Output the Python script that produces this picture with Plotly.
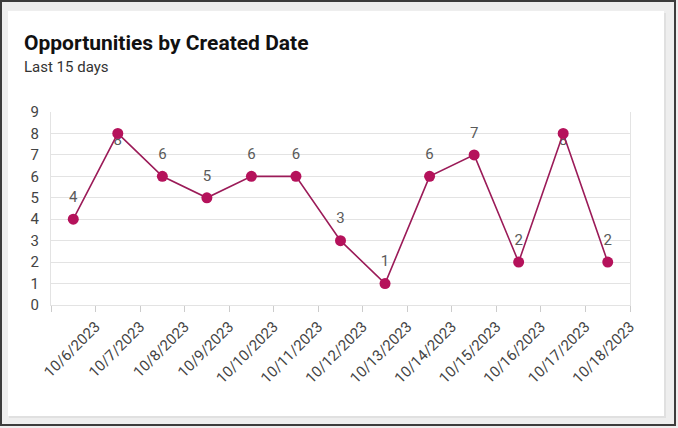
import plotly.graph_objects as go

dates = ["10/6/2023", "10/7/2023", "10/8/2023", "10/9/2023", "10/10/2023",
         "10/11/2023", "10/12/2023", "10/13/2023", "10/14/2023", "10/15/2023",
         "10/16/2023", "10/17/2023", "10/18/2023"]
opportunities = [4, 8, 6, 5, 6, 6, 3, 1, 6, 7, 2, 8, 2]
y_ticks = list(range(0, 10))

title_text = "Opportunities by Created Date"
subtitle_text = "Last 15 days"

W, H = 678, 428
ML, MR, MT, MB = 51, 48, 112, 123
PW, PH = W - ML - MR, H - MT - MB


def xp(px):
    return (px - ML) / PW


def yp(py):
    return (H - MB - py) / PH


idx = list(range(len(dates)))
line_color = "#9b1b58"
marker_color = "#b5125b"
label_font = dict(family="Roboto, sans-serif", size=15, color="#5a5a5a")

top_idx = [i for i, v in enumerate(opportunities) if v < 8]
hid_idx = [i for i, v in enumerate(opportunities) if v >= 8]

fig = go.Figure()

# labels drawn first so markers sit above them
fig.add_trace(go.Scatter(
    x=top_idx, y=[opportunities[i] for i in top_idx], mode="markers+text",
    text=[str(opportunities[i]) for i in top_idx],
    textposition="top center",
    marker=dict(size=20, color="rgba(0,0,0,0)"),
    textfont=label_font, hoverinfo="skip", showlegend=False,
))
fig.add_trace(go.Scatter(
    x=hid_idx, y=[opportunities[i] for i in hid_idx], mode="text",
    text=[str(opportunities[i]) for i in hid_idx],
    textposition="bottom center",
    textfont=label_font, hoverinfo="skip", showlegend=False,
))
fig.add_trace(go.Scatter(
    x=idx, y=opportunities, mode="lines+markers",
    line=dict(color=line_color, width=1.6),
    marker=dict(color=marker_color, size=11),
    showlegend=False,
))

# card, border
shapes = [
    dict(type="rect", xref="paper", yref="paper", layer="below",
         x0=xp(0), x1=xp(W), y0=yp(H), y1=yp(0),
         fillcolor="#eeeeee", line=dict(width=0)),
    dict(type="rect", xref="paper", yref="paper", layer="below",
         x0=xp(9), x1=xp(666), y0=yp(418), y1=yp(13),
         fillcolor="#e0e0e0", line=dict(width=0)),
    dict(type="rect", xref="paper", yref="paper", layer="below",
         x0=xp(8), x1=xp(664), y0=yp(416), y1=yp(11),
         fillcolor="#ffffff", line=dict(width=0)),
    dict(type="rect", xref="paper", yref="paper", layer="above",
         x0=xp(1), x1=xp(W - 3), y0=yp(H - 3), y1=yp(1),
         fillcolor="rgba(0,0,0,0)", line=dict(width=2, color="#3c3c3c")),
]

annotations = [
    dict(text=f"<b>{title_text}</b>", xref="paper", yref="paper",
         x=xp(22), y=yp(43), xanchor="left", yanchor="middle", showarrow=False,
         font=dict(family="Roboto, sans-serif", size=21, color="#111111")),
    dict(text=subtitle_text, xref="paper", yref="paper",
         x=xp(22), y=yp(67), xanchor="left", yanchor="middle", showarrow=False,
         font=dict(family="Roboto, sans-serif", size=15, color="#333333")),
]

tickvals = [i - 0.5 for i in range(len(dates) + 1)]
ticktext = [""] + dates

fig.update_layout(
    width=W, height=H,
    margin=dict(l=ML, r=MR, t=MT, b=MB, pad=0),
    paper_bgcolor="#eeeeee",
    plot_bgcolor="rgba(0,0,0,0)",
    shapes=shapes,
    annotations=annotations,
    font=dict(family="Roboto, sans-serif"),
    xaxis=dict(
        range=[-0.5, len(dates) - 0.5], automargin=False,
        tickmode="array", tickvals=tickvals, ticktext=ticktext,
        tickangle=-45, ticks="outside", ticklen=6, tickcolor="#cccccc",
        showgrid=False, zeroline=False,
        showline=True, linecolor="#e3e3e3", linewidth=1,
        tickfont=dict(family="Roboto, sans-serif", size=15, color="#444444"),
    ),
    yaxis=dict(
        range=[0, 9], tickmode="array", tickvals=y_ticks, automargin=False,
        showgrid=True, gridcolor="#e3e3e3", gridwidth=1,
        zeroline=False, showline=True, mirror=True, linecolor="#e3e3e3",
        ticks="", ticklabelstandoff=8,
        tickfont=dict(family="Roboto, sans-serif", size=15, color="#444444"),
    ),
)

fig.write_html(
    "out.html",
    config={"displayModeBar": False},
    post_script="document.body.style.margin='0';document.body.style.overflow='hidden';",
)
